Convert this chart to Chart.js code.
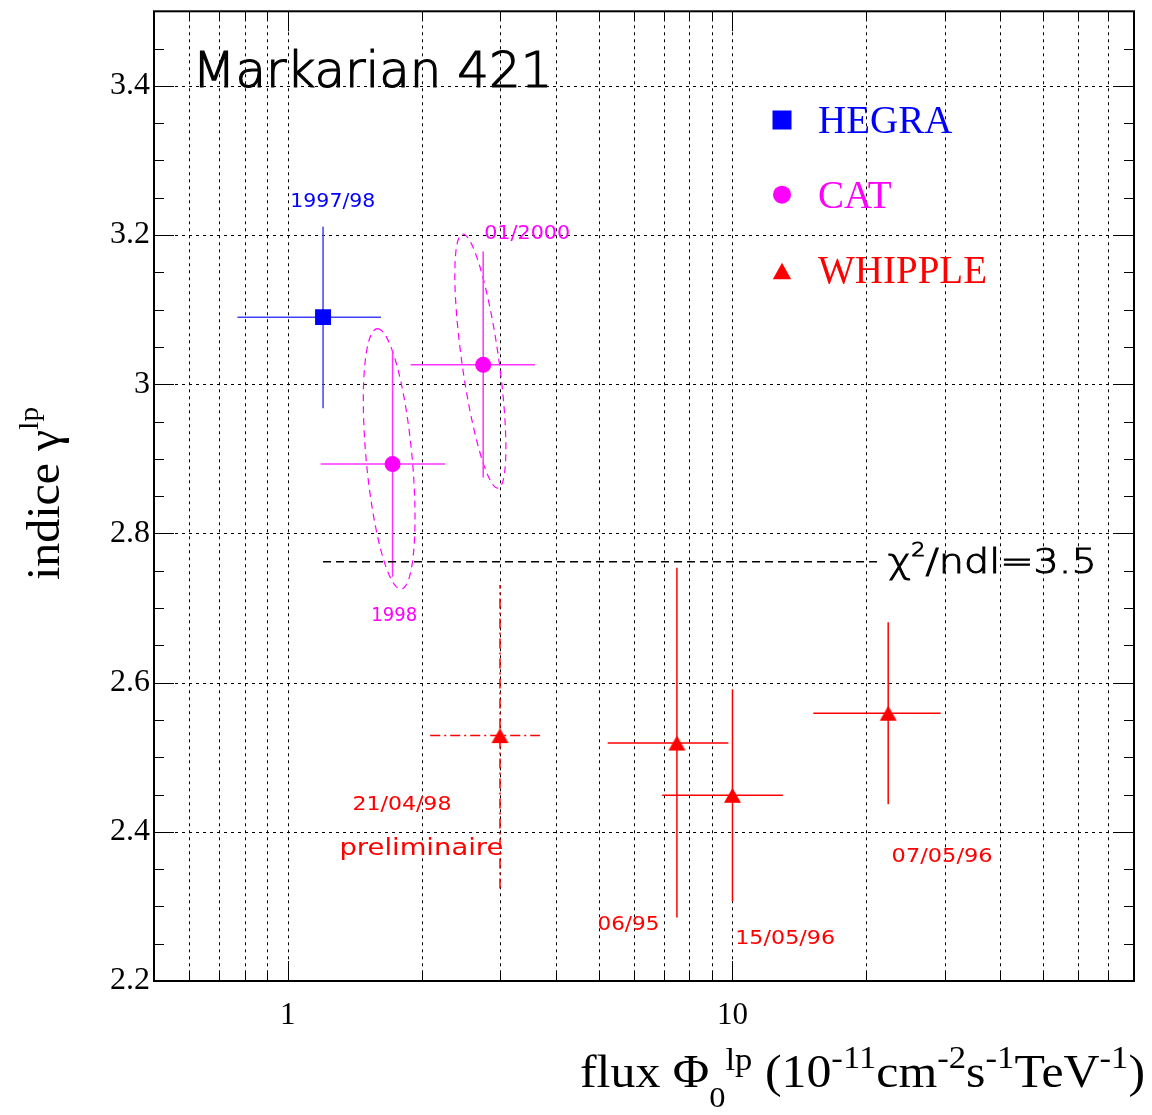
<!DOCTYPE html>
<html><head><meta charset="utf-8">
<script src="https://cdn.jsdelivr.net/npm/chart.js@4/dist/chart.umd.min.js"></script>
<style>html,body{margin:0;padding:0;background:#fff;} canvas{display:block;}</style>
</head><body>
<canvas id="c" width="1152" height="1115"></canvas>
<script>
// ---------- axes ----------
const yTickValues = [2.2, 2.4, 2.6, 2.8, 3.0, 3.2, 3.4];
const xTickValues = [0.6, 0.7, 0.8, 0.9, 1, 2, 3, 4, 5, 6, 7, 8, 9, 10, 20, 30, 40, 50, 60, 70];
const xLabelValues = [1, 10];

// ---------- HEGRA ----------
const hegraX   = [1.2];
const hegraY   = [3.09];
const hegraXLo = [0.77];
const hegraXHi = [1.62];
const hegraYLo = [2.968];
const hegraYHi = [3.211];

// ---------- CAT ----------
const catX   = [1.72, 2.75];
const catY   = [2.893, 3.026];
const catXLo = [1.185, 1.889];
const catXHi = [2.258, 3.60];
const catYLo = [2.742, 2.875];
const catYHi = [3.046, 3.178];

// CAT error ellipses (centre, major and minor half-axes in (log10 x, y) units)
const ellCX    = [1.69, 2.71];
const ellCY    = [2.900, 3.031];
const ellUlogX = [-0.027, -0.040];
const ellUY    = [0.1745, 0.1703];
const ellVlogX = [0.0515, 0.0412];
const ellVY    = [0.0028, 0.0034];

// ---------- WHIPPLE ----------
const whipX   = [3.0, 7.5, 10.0, 22.4];
const whipY   = [2.529, 2.519, 2.449, 2.559];
const whipXLo = [2.09, 5.24, 6.95, 15.2];
const whipXHi = [3.69, 9.79, 12.98, 29.4];
const whipYLo = [2.324, 2.285, 2.307, 2.437];
const whipYHi = [2.731, 2.754, 2.591, 2.681];

// ---------- chi2 line ----------
const chiLineX = [1.2, 21.7];
const chiLineY = 2.762;
const chiText = '3.5';

// ---------- annotations ----------
const annTexts = ['1997/98', '01/2000', '1998', '21/04/98', 'preliminaire', '06/95', '15/05/96', '07/05/96'];
const annX = [1.013, 2.764, 1.541, 1.397, 1.306, 4.97, 10.14, 22.8];
const annY = [3.238, 3.195, 2.683, 2.429, 2.369, 2.269, 2.249, 2.359];
const titleText = 'Markarian 421';
const titleX = 0.61, titleY = 3.399;
const chiTextX = 22.35, chiTextY = 2.747;
const legendNames = ['HEGRA', 'CAT', 'WHIPPLE'];

// ---------- styles ----------
const BLUE = '#0000ff', MAG = '#ff00ff', RED = '#ff0000';
const annColors = [BLUE, MAG, MAG, RED, RED, RED, RED, RED];
const annSizes  = [20, 20, 20, 20, 23, 20, 20, 20];
const annWidths = [85, 86, 46, 99, 164, 62, 100, 101];
const whipDash  = [[10, 4, 2, 4], [], [], []];
const SERIF = "'Liberation Serif', 'Times New Roman', serif";
const SANS = "'DejaVu Sans', sans-serif";

function makeTri(w, h, color) {
  const c = document.createElement('canvas');
  c.width = Math.ceil(w) + 2; c.height = Math.ceil(h) + 2;
  const g = c.getContext('2d');
  g.fillStyle = color; g.beginPath();
  g.moveTo(c.width / 2, 1); g.lineTo(c.width / 2 + w / 2, 1 + h); g.lineTo(c.width / 2 - w / 2, 1 + h);
  g.closePath(); g.fill();
  return c;
}
const triMarker = makeTri(17, 15, RED);

function fitText(ctx, text, x, y, font, width, color, strokeW) {
  ctx.save();
  ctx.font = font; ctx.fillStyle = color; ctx.textAlign = 'left'; ctx.textBaseline = 'alphabetic';
  const w = ctx.measureText(text).width;
  ctx.translate(x, y); ctx.scale(width / w, 1);
  ctx.fillText(text, 0, 0);
  if (strokeW) { ctx.strokeStyle = color; ctx.lineWidth = strokeW; ctx.setLineDash([]); ctx.strokeText(text, 0, 0); }
  ctx.restore();
}
function richText(ctx, segs, x, y, width, family, color, rot, weight, strokeW) {
  ctx.save();
  ctx.fillStyle = color; ctx.textAlign = 'left'; ctx.textBaseline = 'alphabetic';
  const fnt = s => (weight ? weight + ' ' : '') + s.size + 'px ' + family;
  let total = 0;
  segs.forEach(s => { ctx.font = fnt(s); s.w = ctx.measureText(s.t).width; total += s.w; });
  ctx.translate(x, y);
  if (rot) ctx.rotate(rot);
  ctx.scale(width / total, 1);
  let cx = 0;
  segs.forEach(s => {
    ctx.font = fnt(s); ctx.fillText(s.t, cx, s.dy || 0);
    if (strokeW) { ctx.strokeStyle = color; ctx.lineWidth = strokeW; ctx.setLineDash([]); ctx.strokeText(s.t, cx, s.dy || 0); }
    cx += s.w;
  });
  ctx.restore();
}
function line(ctx, x1, y1, x2, y2) { ctx.beginPath(); ctx.moveTo(x1, y1); ctx.lineTo(x2, y2); ctx.stroke(); }

const drawPlugin = {
  id: 'rootStyle',
  beforeDatasetsDraw(chart) {
    const { ctx, chartArea: a, scales: { x, y } } = chart;
    ctx.save();
    // grid
    ctx.strokeStyle = '#000'; ctx.lineWidth = 1; ctx.setLineDash([3, 4]);
    xTickValues.forEach(v => { const p = Math.round(x.getPixelForValue(v)) + 0.5; line(ctx, p, a.top, p, a.bottom); });
    yTickValues.forEach(v => { if (v <= 2.2) return; const p = Math.round(y.getPixelForValue(v)) + 0.5; line(ctx, a.left, p, a.right, p); });

    // ellipses
    ctx.strokeStyle = MAG; ctx.lineWidth = 1.2; ctx.setLineDash([7, 5]);
    for (let i = 0; i < ellCX.length; i++) {
      ctx.beginPath();
      for (let k = 0; k <= 90; k++) {
        const t = k / 90 * 2 * Math.PI;
        const lx = Math.log10(ellCX[i]) + ellUlogX[i] * Math.cos(t) + ellVlogX[i] * Math.sin(t);
        const yy = ellCY[i] + ellUY[i] * Math.cos(t) + ellVY[i] * Math.sin(t);
        const X = x.getPixelForValue(Math.pow(10, lx)), Y = y.getPixelForValue(yy);
        if (k === 0) ctx.moveTo(X, Y); else ctx.lineTo(X, Y);
      }
      ctx.stroke();
    }

    // error bars
    function bars(X, Y, XLo, XHi, YLo, YHi, color, dashes) {
      ctx.strokeStyle = color; ctx.lineWidth = 1.5;
      for (let i = 0; i < X.length; i++) {
        ctx.setLineDash(dashes ? dashes[i] : []);
        const px = x.getPixelForValue(X[i]), py = y.getPixelForValue(Y[i]);
        line(ctx, x.getPixelForValue(XLo[i]), py, x.getPixelForValue(XHi[i]), py);
        line(ctx, px, y.getPixelForValue(YLo[i]), px, y.getPixelForValue(YHi[i]));
      }
    }
    bars(hegraX, hegraY, hegraXLo, hegraXHi, hegraYLo, hegraYHi, '#4040ff');
    bars(catX, catY, catXLo, catXHi, catYLo, catYHi, '#ff33ff');
    bars(whipX, whipY, whipXLo, whipXHi, whipYLo, whipYHi, RED, whipDash);
    ctx.restore();
  },
  afterDraw(chart) {
    const { ctx, chartArea: a, scales: { x, y } } = chart;
    ctx.save();
    ctx.setLineDash([]);
    ctx.strokeStyle = '#000'; ctx.lineWidth = 1;
    // y ticks (left & right, inward)
    for (let k = 0; k <= 26; k++) {
      const v = 2.2 + k * 0.05;
      if (v > 3.5 + 1e-9) break;
      const p = Math.round(y.getPixelForValue(v)) + 0.5;
      const major = (k % 4 === 0);
      const L = major ? 20 : 10;
      line(ctx, a.left, p, a.left + L, p);
      line(ctx, a.right, p, a.right - L, p);
    }
    // x ticks (bottom & top, inward)
    xTickValues.forEach(v => {
      const p = Math.round(x.getPixelForValue(v)) + 0.5;
      const L = xLabelValues.includes(v) ? 20 : 10;
      line(ctx, p, a.bottom, p, a.bottom - L);
      line(ctx, p, a.top, p, a.top + L);
    });
    // frame
    ctx.lineWidth = 2;
    ctx.strokeRect(a.left, a.top, a.right - a.left, a.bottom - a.top);

    // title
    fitText(ctx, titleText, x.getPixelForValue(titleX), y.getPixelForValue(titleY), '200 50px ' + SANS, 360, '#000', 1.2);

    // chi2 text
    richText(ctx, [
      { t: 'χ', size: 34 },
      { t: '2', size: 19, dy: -17 },
      { t: '/ndl=' + chiText, size: 34 }
    ], x.getPixelForValue(chiTextX), y.getPixelForValue(chiTextY), 209, SANS, '#000', 0, '200', 1);

    // annotations
    annTexts.forEach((t, i) => {
      fitText(ctx, t, x.getPixelForValue(annX[i]), y.getPixelForValue(annY[i]), annSizes[i] + 'px ' + SANS, annWidths[i], annColors[i]);
    });

    // legend
    ctx.fillStyle = BLUE; ctx.fillRect(772.5, 110.5, 19, 19);
    ctx.fillStyle = MAG; ctx.beginPath(); ctx.arc(782, 194.7, 9, 0, 2 * Math.PI); ctx.fill();
    ctx.fillStyle = RED; ctx.beginPath(); ctx.moveTo(782, 262.7); ctx.lineTo(791.2, 279.3); ctx.lineTo(772.8, 279.3); ctx.closePath(); ctx.fill();
    ctx.font = '39px ' + SERIF; ctx.textBaseline = 'alphabetic'; ctx.textAlign = 'left';
    ctx.fillStyle = BLUE; ctx.fillText(legendNames[0], 818, 133);
    ctx.fillStyle = MAG; ctx.fillText(legendNames[1], 818, 208);
    ctx.fillStyle = RED; ctx.fillText(legendNames[2], 818, 283);

    // axis titles
    richText(ctx, [
      { t: 'indice ', size: 46 },
      { t: 'γ', size: 46 },
      { t: 'lp', size: 28, dy: -21 }
    ], 59, 580, 173, SERIF, '#000', -Math.PI / 2);
    richText(ctx, [
      { t: 'flux ', size: 46 },
      { t: 'Φ', size: 46 },
      { t: '0', size: 30, dy: 20 },
      { t: 'lp', size: 32, dy: -17 },
      { t: ' (10', size: 46 },
      { t: '-11', size: 32, dy: -19 },
      { t: 'cm', size: 46 },
      { t: '-2', size: 32, dy: -19 },
      { t: 's', size: 46 },
      { t: '-1', size: 32, dy: -19 },
      { t: 'TeV', size: 46 },
      { t: '-1', size: 32, dy: -19 },
      { t: ')', size: 46 }
    ], 580, 1087, 565, SERIF, '#000');
    ctx.restore();
  }
};

new Chart(document.getElementById('c'), {
  type: 'scatter',
  data: {
    datasets: [
      { label: legendNames[0], data: hegraX.map((v, i) => ({ x: v, y: hegraY[i] })),
        pointStyle: 'rect', pointRadius: 11.3, backgroundColor: BLUE, borderWidth: 0 },
      { label: legendNames[1], data: catX.map((v, i) => ({ x: v, y: catY[i] })),
        pointStyle: 'circle', pointRadius: 8, backgroundColor: MAG, borderWidth: 0 },
      { label: legendNames[2], data: whipX.map((v, i) => ({ x: v, y: whipY[i] })),
        pointStyle: triMarker, pointRadius: 10, backgroundColor: RED, borderWidth: 0 },
      { label: 'chi2', data: chiLineX.map(v => ({ x: v, y: chiLineY })), showLine: true,
        pointRadius: 0, borderColor: '#000', borderWidth: 1.5, borderDash: [8, 5], order: 10 }
    ]
  },
  options: {
    responsive: false, animation: false, events: [],
    layout: { padding: { left: 0, top: 7, right: 18, bottom: 0 } },
    plugins: { legend: { display: false }, tooltip: { enabled: false } },
    scales: {
      x: {
        type: 'logarithmic', min: 0.5, max: 80,
        grid: { display: false, drawTicks: false }, border: { display: false },
        afterBuildTicks: s => { s.ticks = xTickValues.map(v => ({ value: v })); },
        afterFit: s => { s.height = 134; s.paddingLeft = 0; s.paddingRight = 0; },
        ticks: { autoSkip: false, maxRotation: 0, minRotation: 0, padding: 16, color: '#000',
          font: { family: SERIF, size: 31 },
          callback: v => xLabelValues.includes(v) ? String(v) : '' }
      },
      y: {
        type: 'linear', min: 2.2, max: 3.5,
        grid: { display: false, drawTicks: false }, border: { display: false },
        afterBuildTicks: s => { s.ticks = yTickValues.map(v => ({ value: v })); },
        afterFit: s => { s.width = 154; s.paddingTop = 0; s.paddingBottom = 0; },
        ticks: { padding: 4, color: '#000', font: { family: SERIF, size: 32 },
          callback: v => String(Math.round(v * 10) / 10) }
      }
    }
  },
  plugins: [drawPlugin]
});
</script>
</body></html>
